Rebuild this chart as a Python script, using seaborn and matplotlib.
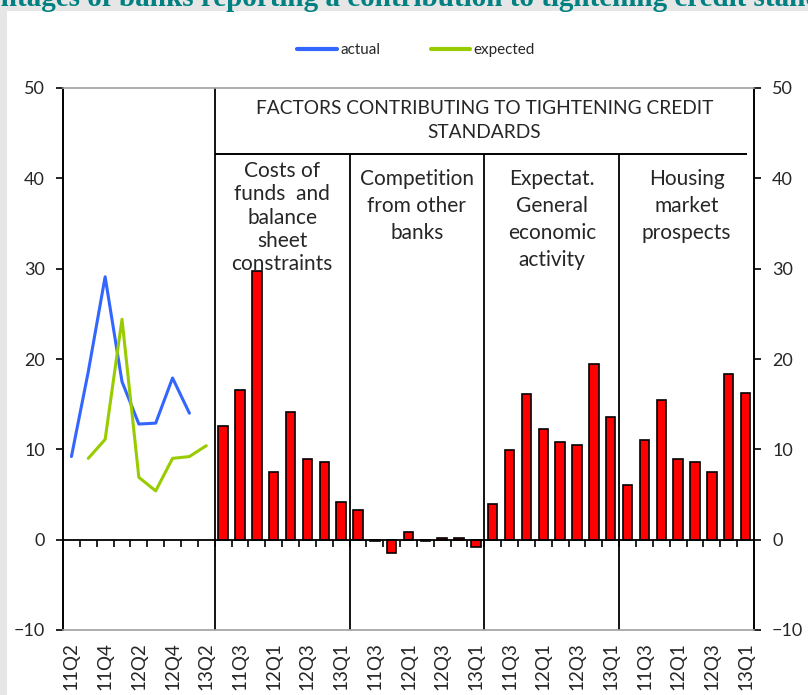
import numpy as np
import pandas as pd
import matplotlib
matplotlib.use("Agg")
import matplotlib.pyplot as plt
import seaborn as sns
from matplotlib.patches import Rectangle

# Survey quarters for the actual / expected lines
line_quarters = ['11Q2', '11Q3', '11Q4', '12Q1', '12Q2', '12Q3', '12Q4', '13Q1', '13Q2']
actual = [9.2, 18.6, 29.1, 17.5, 12.8, 12.9, 17.9, 14.0, np.nan]
expected = [np.nan, 9.0, 11.1, 24.4, 6.9, 5.4, 9.0, 9.2, 10.4]

# Factors contributing to tightening
bar_quarters = ['11Q2', '11Q3', '11Q4', '12Q1', '12Q2', '12Q3', '12Q4', '13Q1']
factors = ['Costs of\nfunds  and\nbalance\nsheet\nconstraints',
           'Competition\nfrom other\nbanks',
           'Expectat.\nGeneral\neconomic\nactivity',
           'Housing\nmarket\nprospects']
costs_of_funds = [12.6, 16.6, 29.7, 7.5, 14.1, 8.9, 8.6, 4.2]
competition = [3.3, -0.2, -1.5, 0.9, -0.2, 0.2, 0.2, -0.8]
economic_activity = [4.0, 9.9, 16.1, 12.2, 10.8, 10.5, 19.5, 13.6]
housing_market = [6.1, 11.0, 15.5, 8.9, 8.6, 7.5, 18.3, 16.2]

title = 'Percentages of banks reporting a contribution to tightening credit standards'
header = 'FACTORS CONTRIBUTING TO TIGHTENING CREDIT\nSTANDARDS'

sns.set_style('white')
plt.rcParams['font.family'] = ['Lato', 'DejaVu Sans']

n_line = len(line_quarters)
n_bar = len(bar_quarters)
lines_df = pd.DataFrame({
    'pos': np.tile(np.arange(n_line), 2),
    'value': actual + expected,
    'series': ['actual'] * n_line + ['expected'] * n_line,
}).dropna()
bar_values = [costs_of_funds, competition, economic_activity, housing_market]
bars_df = pd.DataFrame({
    'pos': n_line + np.arange(len(factors) * n_bar),
    'value': np.concatenate(bar_values),
})
all_labels = line_quarters + bar_quarters * len(factors)
n_all = len(all_labels)

fig = plt.figure(figsize=(8.08, 6.95), dpi=100)
fig.patch.set_facecolor('#e6e6e6')
fig.add_artist(Rectangle((7 / 808, 0), 1, 1 - 11 / 695, transform=fig.transFigure,
                         facecolor='white', edgecolor='none', zorder=-5))
ax = fig.add_axes([63 / 808, 1 - 630 / 695, (754 - 63) / 808, (630 - 88) / 695])

sns.barplot(data=bars_df, x='pos', y='value', native_scale=True, color='#ff0000',
            saturation=1, edgecolor='black', linewidth=1.2, width=0.56,
            errorbar=None, ax=ax, zorder=3)
sns.lineplot(data=lines_df, x='pos', y='value', hue='series',
             palette={'actual': '#3366ff', 'expected': '#99cc00'},
             linewidth=2.2, ax=ax, zorder=4)

ax.set_xlim(-0.5, n_all - 0.5)
ax.set_ylim(-10, 50)
ax.set_xlabel('')
ax.set_ylabel('')
ax.set_xticks(np.arange(0, n_all, 2))
ax.set_xticklabels(all_labels[::2], rotation=90, fontsize=13.5)
ax.tick_params(axis='x', length=0, pad=9)
ax.set_yticks(np.arange(-10, 51, 10))
ax.yaxis.set_ticks_position('both')
ax.tick_params(axis='y', direction='out', length=5, width=1.2, labelsize=13,
               labelright=True, pad=8, color='black')

for side in ['left', 'right']:
    ax.spines[side].set_color('black')
    ax.spines[side].set_linewidth(1.4)
for side in ['top', 'bottom']:
    ax.spines[side].set_color('#a0a0a0')
    ax.spines[side].set_linewidth(1.2)

# zero axis with tick marks between categories
ax.axhline(0, color='black', lw=1.3, zorder=5)
ax.vlines(np.arange(n_all + 1) - 0.5, -0.8, 0, color='black', lw=1.2, zorder=5)

# section separators and header
header_y = 42.7
seps = n_line + n_bar * np.arange(len(factors)) - 0.5
ax.vlines(seps[0], -10, 50, color='black', lw=1.3)
ax.vlines(seps[1:], -10, header_y, color='black', lw=1.3)
ax.hlines(header_y, seps[0], n_all - 0.9, color='black', lw=1.4)
ax.text((seps[0] + n_all - 0.5) / 2, 46.4, header, ha='center', va='center',
        fontsize=13.8, linespacing=1.45)
for g, name in enumerate(factors):
    cx = n_line + n_bar * g + (n_bar - 1) / 2
    ax.text(cx, 41.9 if g == 0 else 41.0, name, ha='center', va='top',
            fontsize=15, linespacing=1.2 if g == 0 else 1.44)

handles, labels = ax.get_legend_handles_labels()
for h in handles:
    h.set_linewidth(3)
ax.legend(handles, labels, loc='center', bbox_to_anchor=(0.515, 0.928),
          bbox_transform=fig.transFigure, ncol=2, frameon=False,
          handlelength=2.6, columnspacing=3.3, handletextpad=0.2, fontsize=11)

fig.text(0.5, 1 - 6 / 695, title, ha='center', va='baseline', fontsize=21,
         family='Liberation Serif', weight='bold', color='#008080')

fig.savefig('out.png', dpi=100, facecolor=fig.get_facecolor())
